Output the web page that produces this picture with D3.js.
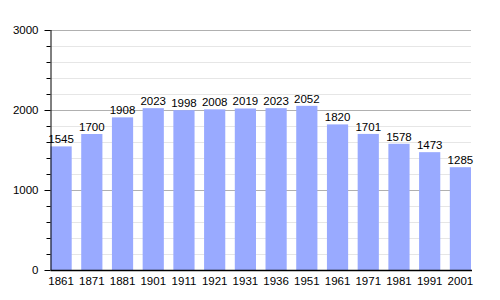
<!DOCTYPE html>
<html>
<head>
<meta charset="utf-8">
<script src="https://cdn.jsdelivr.net/npm/d3@7"></script>
<style>
  body { margin: 0; background: #fff; }
  text { font-family: "Liberation Sans", Arial, sans-serif; font-size: 11.5px; fill: #000; }
</style>
</head>
<body>
<div id="chart"></div>
<script>
/* DATA */
const years = ["1861", "1871", "1881", "1901", "1911", "1921", "1931", "1936", "1951", "1961", "1971", "1981", "1991", "2001"];
const population = [1545, 1700, 1908, 2023, 1998, 2008, 2019, 2023, 2052, 1820, 1701, 1578, 1473, 1285];
const majorTicks = [0, 1000, 2000, 3000];
const minorTicks = d3.range(0, 3001, 200);

/* CONSTANTS */
const width = 500,
  height = 300,
  margin = { top: 30, bottom: 30, left: 50.5, right: 29 };

const svg = d3.select("#chart")
  .append("svg")
  .attr("width", width)
  .attr("height", height);

// scales
const xScale = d3.scaleBand()
  .domain(years)
  .range([margin.left, width - margin.right])
  .paddingInner(0.31)
  .paddingOuter(0);

const yScale = d3.scaleLinear()
  .domain([0, 3000])
  .range([height - margin.bottom, margin.top]);

// minor gridlines
svg.append("g")
  .selectAll("line")
  .data(minorTicks.filter(d => d % 1000 !== 0))
  .join("line")
  .attr("x1", margin.left)
  .attr("x2", width - margin.right)
  .attr("y1", d => Math.round(yScale(d)) + 0.5)
  .attr("y2", d => Math.round(yScale(d)) + 0.5)
  .attr("stroke", "#e6e6e6");

// major gridlines
svg.append("g")
  .selectAll("line")
  .data(majorTicks.filter(d => d > 0))
  .join("line")
  .attr("x1", margin.left)
  .attr("x2", width - margin.right)
  .attr("y1", d => Math.round(yScale(d)) + 0.5)
  .attr("y2", d => Math.round(yScale(d)) + 0.5)
  .attr("stroke", "#b0b0b0");

// bars
svg.append("g")
  .selectAll("rect")
  .data(population)
  .join("rect")
  .attr("x", (d, i) => xScale(years[i]))
  .attr("y", d => yScale(d))
  .attr("width", xScale.bandwidth())
  .attr("height", d => yScale(0) - yScale(d))
  .attr("fill", "#99aaff");

// value labels
svg.append("g")
  .selectAll("text")
  .data(population)
  .join("text")
  .attr("x", (d, i) => xScale(years[i]) + xScale.bandwidth() / 2)
  .attr("y", d => yScale(d) - 3)
  .attr("text-anchor", "middle")
  .text(d => d);

// y axis
const yAxis = d3.axisLeft(yScale).tickValues(majorTicks).tickSize(6).tickPadding(6).tickFormat(d3.format("d"));
const yMinor = d3.axisLeft(yScale).tickValues(minorTicks.filter(d => d % 1000 !== 0)).tickSize(4).tickFormat("");

svg.append("g")
  .attr("transform", `translate(${margin.left}, 0)`)
  .call(yMinor)
  .call(g => g.select(".domain").remove());

svg.append("g")
  .attr("class", "axis y-axis")
  .attr("transform", `translate(${margin.left}, 0)`)
  .call(yAxis)
  .call(g => g.select(".domain").attr("d", `M0.5,${yScale(3000)}V${yScale(0)}`))
  .selectAll("text")
  .style("font-size", "11.5px");

// x axis
svg.append("g")
  .attr("class", "axis x-axis")
  .attr("transform", `translate(0, ${yScale(0) + 0.5})`)
  .call(d3.axisBottom(xScale).tickSize(0).tickPadding(6).tickSizeOuter(0))
  .call(g => g.select(".domain").attr("d", `M${margin.left},0H${width - margin.right + 1}`).attr("stroke-width", 1.5))
  .selectAll("text")
  .style("font-size", "11.5px");
</script>
</body>
</html>
